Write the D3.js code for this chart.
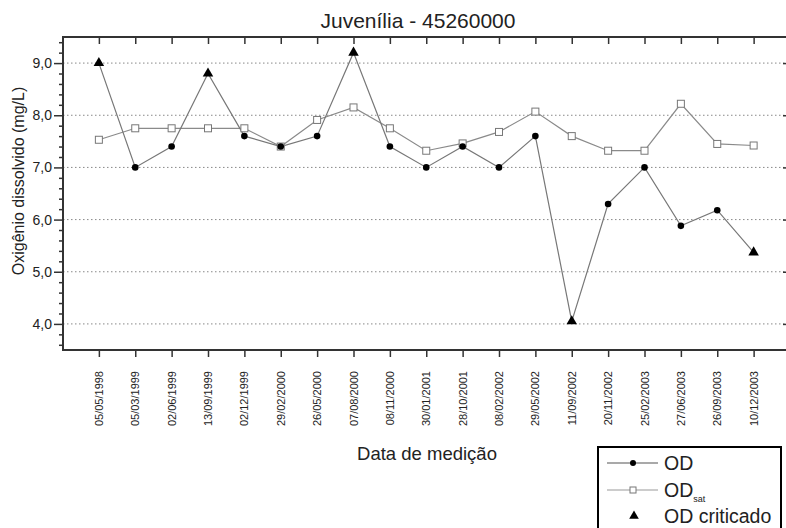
<!DOCTYPE html>
<html>
<head>
<meta charset="utf-8">
<script src="https://cdn.jsdelivr.net/npm/d3@7"></script>
<style>
  body { margin: 0; background: #fff; }
  text { font-family: "Liberation Sans", Arial, sans-serif; fill: #222; }
</style>
</head>
<body>
<div id="chart"></div>
<script>
// dates of measurement (categories)
var dates = ["05/05/1998", "05/03/1999", "02/06/1999", "13/09/1999", "02/12/1999",
  "29/02/2000", "26/05/2000", "07/08/2000", "08/11/2000", "30/01/2001",
  "28/10/2001", "08/02/2002", "29/05/2002", "11/09/2002", "20/11/2002",
  "25/02/2003", "27/06/2003", "26/09/2003", "10/12/2003"];

// OD (mg/L)
var od = [9.0, 7.0, 7.4, 8.8, 7.6, 7.4, 7.6, 9.2, 7.4, 7.0,
  7.4, 7.0, 7.6, 4.05, 6.3, 7.0, 5.88, 6.18, 5.37];

// OD saturation (mg/L)
var odSat = [7.53, 7.75, 7.75, 7.75, 7.75, 7.4, 7.91, 8.15, 7.75, 7.32,
  7.46, 7.68, 8.07, 7.6, 7.32, 7.32, 8.22, 7.45, 7.42];

// indices flagged as "OD criticado"
var critIdx = [0, 3, 7, 13, 18];

var yTicks = [4, 5, 6, 7, 8, 9];

var svgWidth = 786;
var svgHeight = 528;

var plot = { left: 63, top: 37, right: 790, bottom: 350 };

var svg = d3.select("#chart")
  .append("svg")
  .attr("width", svgWidth)
  .attr("height", svgHeight);

var x = d3.scaleLinear().domain([-1, 19]).range([62.5, plot.right]);
var y = d3.scaleLinear().domain([3.5, 9.5]).range([plot.bottom, plot.top]);

var fmt = function(d) { return d3.format(".1f")(d).replace(".", ","); };

// dotted grid lines
svg.append("g")
  .selectAll("line")
  .data(yTicks)
  .enter()
  .append("line")
  .attr("x1", plot.left)
  .attr("x2", plot.right)
  .attr("y1", function(d) { return y(d); })
  .attr("y2", function(d) { return y(d); })
  .attr("stroke", "#888")
  .attr("stroke-width", 1)
  .attr("stroke-dasharray", "1.5,2.5");

// axes
var idx = d3.range(dates.length);

var bottomAxis = d3.axisBottom(x)
  .tickValues(idx)
  .tickSize(7)
  .tickFormat("");
svg.append("g")
  .attr("class", "xaxis")
  .attr("transform", "translate(0," + plot.bottom + ")")
  .call(bottomAxis);

var topAxis = d3.axisBottom(x)
  .tickValues(idx)
  .tickSize(7)
  .tickFormat("");
svg.append("g")
  .attr("class", "xaxis")
  .attr("transform", "translate(0," + plot.top + ")")
  .call(topAxis);

var minorY = d3.range(3.6, 9.5, 0.2).filter(function(d) {
  return Math.abs(d - Math.round(d)) > 0.01;
});

svg.append("g")
  .attr("class", "yaxis")
  .attr("transform", "translate(" + plot.left + ",0)")
  .call(d3.axisLeft(y).tickValues(minorY).tickSize(4).tickFormat(""));

var leftAxis = d3.axisLeft(y)
  .tickValues(yTicks)
  .tickSize(9)
  .tickPadding(2)
  .tickFormat(fmt);
svg.append("g")
  .attr("class", "yaxis")
  .attr("transform", "translate(" + plot.left + ",0)")
  .call(leftAxis);

svg.append("g")
  .attr("class", "yaxis")
  .attr("transform", "translate(" + plot.right + ",0)")
  .call(d3.axisLeft(y).tickValues(yTicks).tickSize(7).tickFormat(""));

svg.selectAll(".xaxis .domain, .yaxis .domain").remove();
svg.selectAll(".xaxis line, .yaxis line")
  .attr("stroke", "#333")
  .attr("stroke-width", 1.5);
svg.selectAll(".yaxis text")
  .style("font-size", "14px")
  .attr("fill", "#333");

// frame
svg.append("path")
  .attr("d", "M" + plot.left + "," + plot.top + "H" + plot.right + "V" + plot.bottom + "H" + plot.left + "Z")
  .attr("fill", "none")
  .attr("stroke", "#333")
  .attr("stroke-width", 2);

// x tick labels, rotated
svg.append("g")
  .selectAll("text")
  .data(dates)
  .enter()
  .append("text")
  .attr("transform", function(d, i) {
    return "translate(" + (x(i) + 4) + "," + 371 + ") rotate(-90)";
  })
  .attr("text-anchor", "end")
  .style("font-size", "11px")
  .attr("fill", "#333")
  .text(function(d) { return d; });

// lines
var line = d3.line()
  .x(function(d, i) { return x(i); })
  .y(function(d) { return y(d); });

svg.append("path")
  .datum(odSat)
  .attr("d", line)
  .attr("fill", "none")
  .attr("stroke", "#8a8a8a")
  .attr("stroke-width", 1.2);

svg.append("path")
  .datum(od)
  .attr("d", line)
  .attr("fill", "none")
  .attr("stroke", "#777")
  .attr("stroke-width", 1.2);

// OD sat squares
svg.append("g")
  .selectAll("rect")
  .data(odSat)
  .enter()
  .append("rect")
  .attr("x", function(d, i) { return x(i) - 3.5; })
  .attr("y", function(d) { return y(d) - 3.5; })
  .attr("width", 7)
  .attr("height", 7)
  .attr("fill", "#fff")
  .attr("stroke", "#777")
  .attr("stroke-width", 1);

// OD circles (non critical)
svg.append("g")
  .selectAll("circle")
  .data(od.map(function(v, i) { return { i: i, v: v }; })
    .filter(function(d) { return critIdx.indexOf(d.i) < 0; }))
  .enter()
  .append("circle")
  .attr("cx", function(d) { return x(d.i); })
  .attr("cy", function(d) { return y(d.v); })
  .attr("r", 3.3)
  .attr("fill", "#000");

// critical triangles
var tri = d3.symbol().type(d3.symbolTriangle).size(48);
svg.append("g")
  .selectAll("path")
  .data(critIdx)
  .enter()
  .append("path")
  .attr("d", tri)
  .attr("transform", function(i) { return "translate(" + x(i) + "," + y(od[i]) + ")"; })
  .attr("fill", "#000");

// titles
svg.append("text")
  .attr("x", 418)
  .attr("y", 28)
  .attr("text-anchor", "middle")
  .style("font-size", "21px")
  .text("Juvenília - 45260000");

svg.append("text")
  .attr("transform", "translate(24," + 181 + ") rotate(-90)")
  .attr("text-anchor", "middle")
  .style("font-size", "16px")
  .attr("fill", "#333")
  .text("Oxigênio dissolvido (mg/L)");

svg.append("text")
  .attr("x", 427)
  .attr("y", 460)
  .attr("text-anchor", "middle")
  .style("font-size", "18.5px")
  .text("Data de medição");

// legend
var lg = svg.append("g");
lg.append("rect")
  .attr("x", 598)
  .attr("y", 447)
  .attr("width", 183)
  .attr("height", 100)
  .attr("fill", "#fff")
  .attr("stroke", "#000")
  .attr("stroke-width", 2);

lg.append("line")
  .attr("x1", 607).attr("x2", 658).attr("y1", 463).attr("y2", 463)
  .attr("stroke", "#555").attr("stroke-width", 1.2);
lg.append("circle")
  .attr("cx", 633).attr("cy", 463).attr("r", 3)
  .attr("fill", "#000");
lg.append("text")
  .attr("x", 664).attr("y", 470)
  .style("font-size", "19.5px")
  .text("OD");

lg.append("line")
  .attr("x1", 607).attr("x2", 658).attr("y1", 490).attr("y2", 490)
  .attr("stroke", "#999").attr("stroke-width", 1.2);
lg.append("rect")
  .attr("x", 630).attr("y", 487).attr("width", 6).attr("height", 6)
  .attr("fill", "#fff").attr("stroke", "#777");
var satText = lg.append("text")
  .attr("x", 664).attr("y", 497)
  .style("font-size", "19.5px")
  .text("OD");
satText.append("tspan")
  .attr("dy", 5)
  .style("font-size", "9px")
  .text("sat");

lg.append("path")
  .attr("d", d3.symbol().type(d3.symbolTriangle).size(40))
  .attr("transform", "translate(634,516)")
  .attr("fill", "#000");
lg.append("text")
  .attr("x", 664).attr("y", 523)
  .style("font-size", "19.5px")
  .text("OD criticado");
</script>
</body>
</html>
